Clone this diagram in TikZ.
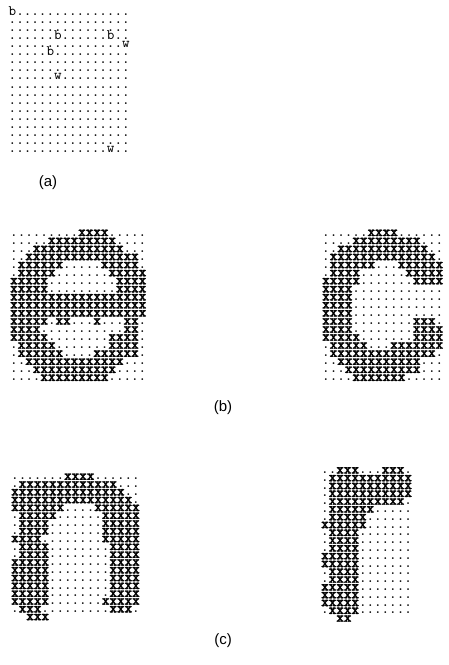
\documentclass[tikz,border=0pt]{standalone}
\usepackage{fontspec}
\newfontfamily\gridfont{lmmono10-regular.otf}
\newfontfamily\gridbold[FakeBold=2.2]{lmmonolt10-bold.otf}
\newfontfamily\labelfont{Liberation Sans}

% A grid row is typed as a string: ':' prints a dot, 'x' a bold cross,
% '-' leaves an empty cell, any other letter is printed as it is.
\makeatletter
\def\gridrow#1{\gridrow@#1\@nil}
\def\gridrow@#1{\ifx\@nil#1\else\gridcell#1\expandafter\gridrow@\fi}
\def\gridcell#1{\if x#1{\gridbold x}\else\if :#1.\else\if -#1\hphantom{x}\else#1\fi\fi\fi}
\makeatother

\tikzset{
  gridline/.style={anchor=base west, inner sep=0pt, outer sep=0pt,
    text height=6.5pt, text depth=0.5pt,
    font=\gridfont\fontsize{14.4}{14.4}\selectfont},
  panellabel/.style={inner sep=0pt, font=\labelfont\fontsize{15}{15}\selectfont}
}

\begin{document}
\begin{tikzpicture}[x=1pt, y=-1pt]
\useasboundingbox (0,0) rectangle (449,665);

% (a) sample points on a 16 x 18 grid
\foreach \s [count=\i from 0] in {
  b:::::::::::::::, ::::::::::::::::, ::::::::::::::::,
  ::::::b::::::b::, :::::::::::::::w, :::::b::::::::::,
  ::::::::::::::::, ::::::::::::::::, ::::::w:::::::::,
  ::::::::::::::::, ::::::::::::::::, ::::::::::::::::,
  ::::::::::::::::, ::::::::::::::::, ::::::::::::::::,
  ::::::::::::::::, ::::::::::::::::, :::::::::::::w::}
  \node[gridline] (a\i) at ({8.7},{15.5+8.06*\i}) {\expandafter\gridrow\expandafter{\s}};
\node[panellabel] (la) at (48,183) {(a)};

% (b) left character
\foreach \s [count=\i from 0] in {
  :::::::::xxxx:::::, :::::xxxxxxxxx::::, :::xxxxxxxxxxxx:::,
  ::xxxxxxxxxxxxxxx:, :xxxxxx:::::xxxxx:, :xxxxx:::::::xxxxx,
  xxxxx:::::::::xxxx, xxxxx:::::::::xxxx, xxxxxxxxxxxxxxxxxx,
  xxxxxxxxxxxxxxxxxx, xxxxxxxxxxxxxxxxxx, xxxxx:xx:::x:::xx:,
  xxxx:::::::::::xx:, xxxxx::::::::xxxx:, :xxxxx:::::::xxxx:,
  :xxxxxx::::xxxxxx:, ::xxxxxxxxxxxxx:::, :::xxxxxxxxxxx::::,
  ::::xxxxxxxxx:::::}
  \node[gridline] (bl\i) at ({10.2},{236+8.05*\i}) {\expandafter\gridrow\expandafter{\s}};

% (b) right character
\foreach \s [count=\i from 0] in {
  ::::::xxxx::::::, ::::xxxxxxxxx:::, ::xxxxxxxxxxxx::,
  :xxxxxxxxxxxxxx:, :xxxxxx:::xxxxxx, :xxxx::::::xxxxx,
  xxxxx:::::::xxxx, xxxx::::::::::::, xxxx::::::::::::,
  xxxx::::::::::::, xxxx::::::::::::, xxxx::::::::xxx:,
  xxxx::::::::xxxx, xxxxx:::::::xxxx, :xxxxx:::xxxxxxx,
  :xxxxxxxxxxxxxx:, ::xxxxxxxxxxx:::, :::xxxxxxxxxx:::,
  ::::xxxxxxx:::::}
  \node[gridline] (br\i) at ({322.2},{236+8.05*\i}) {\expandafter\gridrow\expandafter{\s}};
\node[panellabel] (lb) at (223,408) {(b)};

% (c) left character
\foreach \s [count=\i from 1] in {
  :::::::xxxx::::::, :xxxxxxxxxxxxx:::, xxxxxxxxxxxxxxx::,
  xxxxxxxxxxxxxxxx:, xxxxxxx::::xxxxxx, :xxxxx::::::xxxxx,
  :xxxx:::::::xxxxx, :xxxx:::::::xxxxx, xxxx::::::::xxxxx,
  :xxxx::::::::xxxx, :xxxx::::::::xxxx, xxxxx::::::::xxxx,
  xxxxx::::::::xxxx, xxxxx::::::::xxxx, xxxxx::::::::xxxx,
  xxxxx::::::::xxxx, xxxxx:::::::xxxxx, :xxx:::::::::xxx:,
  --xxx}
  \node[gridline] (cl\i) at ({11.2},{472+7.8*\i}) {\expandafter\gridrow\expandafter{\s}};

% (c) right character
\foreach \s [count=\i from 0] in {
  ::xxx:::xxx:, :xxxxxxxxxxx, :xxxxxxxxxxx, :xxxxxxxxxxx,
  :xxxxxxxxxx:, :xxxxxx:::::, :xxxxx::::::, xxxxxx::::::,
  :xxxx:::::::, :xxxx:::::::, :xxxx:::::::, xxxxx:::::::,
  xxxxx:::::::, :xxxx:::::::, :xxxx:::::::, xxxxx:::::::,
  xxxxx:::::::, xxxxx:::::::, :xxxx:::::::, --xx}
  \node[gridline] (cr\i) at ({321.2},{473.5+7.8*\i}) {\expandafter\gridrow\expandafter{\s}};
\node[panellabel] (lc) at (223,641) {(c)};
\end{tikzpicture}
\end{document}
